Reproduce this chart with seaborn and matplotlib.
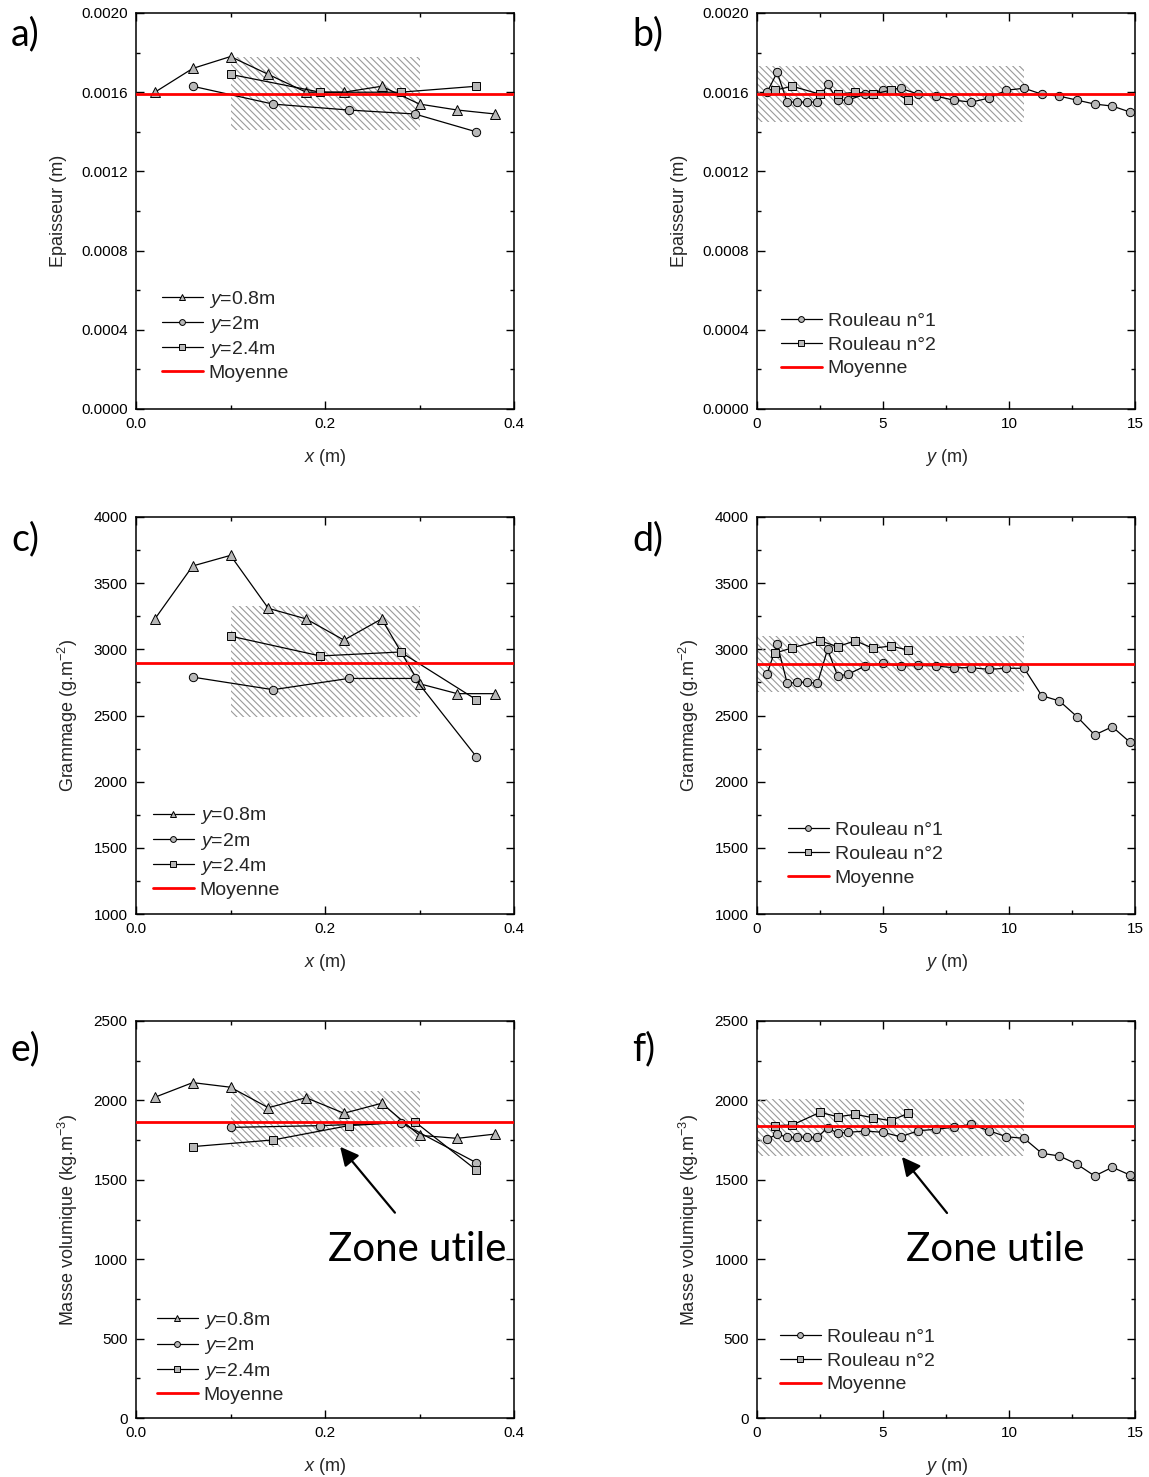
import matplotlib
matplotlib.use("Agg")
import matplotlib.pyplot as plt
from matplotlib.patches import Rectangle
from matplotlib.ticker import MultipleLocator, FormatStrFormatter
import seaborn as sns
import numpy as np

# ---------------- data ----------------
x_08 = [0.02, 0.06, 0.10, 0.14, 0.18, 0.22, 0.26, 0.30, 0.34, 0.38]
x_2 = [0.06, 0.145, 0.225, 0.295, 0.36]
x_24 = [0.10, 0.195, 0.28, 0.36]

ep_08 = [0.00160, 0.00172, 0.00178, 0.00169, 0.00160, 0.00160, 0.00163, 0.00154, 0.00151, 0.00149]
ep_2 = [0.00163, 0.00154, 0.00151, 0.00149, 0.00140]
ep_24 = [0.00169, 0.00160, 0.00160, 0.00163]

gr_08 = [3230, 3630, 3710, 3310, 3230, 3070, 3230, 2740, 2665, 2665]
gr_2 = [2790, 2695, 2780, 2780, 2190]
gr_24 = [3100, 2950, 2980, 2620]

# panel e: markers as drawn in the reference
xe_2 = [0.10, 0.195, 0.28, 0.36]
xe_24 = [0.06, 0.145, 0.225, 0.295, 0.36]
mv_08 = [2020, 2112, 2083, 1954, 2017, 1919, 1982, 1780, 1761, 1788]
mv_2 = [1830, 1841, 1860, 1608]
mv_24 = [1709, 1751, 1841, 1866, 1562]

y_r1 = [0.4, 0.8, 1.2, 1.6, 2.0, 2.4, 2.8, 3.2, 3.6, 4.3, 5.0, 5.7, 6.4, 7.1, 7.8,
        8.5, 9.2, 9.9, 10.6, 11.3, 12.0, 12.7, 13.4, 14.1, 14.8]
y_r2 = [0.7, 1.4, 2.5, 3.2, 3.9, 4.6, 5.3, 6.0]

ep_r1 = [0.00160, 0.00170, 0.00155, 0.00155, 0.00155, 0.00155, 0.00164, 0.00156, 0.00156,
         0.00159, 0.00161, 0.00162, 0.00159, 0.00158, 0.00156, 0.00155, 0.00157, 0.00161,
         0.00162, 0.00159, 0.00158, 0.00156, 0.00154, 0.00153, 0.00150]
ep_r2 = [0.00161, 0.00163, 0.00159, 0.00159, 0.00160, 0.00159, 0.00161, 0.00156]

gr_r1 = [2814, 3040, 2743, 2751, 2751, 2743, 3000, 2799, 2811, 2874, 2894, 2874, 2879,
         2874, 2861, 2861, 2849, 2857, 2857, 2650, 2610, 2491, 2353, 2415, 2298]
gr_r2 = [2970, 3012, 3065, 3020, 3065, 3008, 3025, 2995]

mv_r1 = [1755, 1788, 1768, 1768, 1768, 1768, 1828, 1793, 1799, 1807, 1799, 1771, 1809,
         1818, 1831, 1849, 1809, 1771, 1761, 1667, 1650, 1598, 1524, 1579, 1530]
mv_r2 = [1841, 1845, 1925, 1897, 1912, 1891, 1872, 1919]

means = {"a": 0.00159, "b": 0.00159, "c": 2900, "d": 2887, "e": 1862, "f": 1841}
zone_x_left = [0.10, 0.30]
zone_x_right = [0.0, 10.6]
zones_y = {"a": [0.00141, 0.00178], "b": [0.00145, 0.00173],
           "c": [2490, 3330], "d": [2680, 3103],
           "e": [1704, 2059], "f": [1652, 2007]}

lab_08, lab_2, lab_24 = "$y$=0.8m", "$y$=2m", "$y$=2.4m"
lab_r1, lab_r2, lab_m = "Rouleau n°1", "Rouleau n°2", "Moyenne"

# ---------------- style ----------------
sns.set_style("ticks")
plt.rcParams["font.family"] = ["Liberation Sans", "DejaVu Sans"]
plt.rcParams["mathtext.fontset"] = "custom"
plt.rcParams["mathtext.rm"] = "Liberation Sans"
plt.rcParams["mathtext.it"] = "Liberation Sans:italic"
plt.rcParams["hatch.linewidth"] = 0.8
plt.rcParams["hatch.color"] = "#9a9a9a"

fig = plt.figure(figsize=(11.49, 14.77), dpi=100)
W, H = 1149, 1477

def make_ax(left, top, bottom):
    return fig.add_axes([left / W, 1 - bottom / H, 378 / W, (bottom - top) / H])

axes = {
    "a": make_ax(136, 13, 409), "b": make_ax(757, 13, 409),
    "c": make_ax(136, 517, 914), "d": make_ax(757, 517, 914),
    "e": make_ax(136, 1021, 1418), "f": make_ax(757, 1021, 1418),
}

MFC = "#b8b8b8"

def series(ax, x, y, marker, label, ms):
    sns.lineplot(x=x, y=y, ax=ax, color="black", lw=0.9, marker=marker, markersize=ms,
                 markerfacecolor=MFC, markeredgecolor="black", markeredgewidth=0.7,
                 label=label, sort=False, zorder=3)

def zone(ax, xs, ys):
    ax.add_patch(Rectangle((xs[0], ys[0]), xs[1] - xs[0], ys[1] - ys[0],
                           facecolor="none", edgecolor="#9a9a9a", hatch="\\\\\\\\\\",
                           lw=0, zorder=1))

# left column
for key, (d08, d2, d24, xs2, xs24) in {
        "a": (ep_08, ep_2, ep_24, x_2, x_24),
        "c": (gr_08, gr_2, gr_24, x_2, x_24),
        "e": (mv_08, mv_2, mv_24, xe_2, xe_24)}.items():
    ax = axes[key]
    zone(ax, zone_x_left, zones_y[key])
    series(ax, x_08, d08, "^", lab_08, 7)
    series(ax, xs2, d2, "o", lab_2, 6)
    series(ax, xs24, d24, "s", lab_24, 5.5)
    ax.axhline(means[key], color="#ff0000", lw=2, label=lab_m, zorder=4)
    ax.set_xlim(0, 0.4)
    ax.xaxis.set_major_locator(MultipleLocator(0.2))
    ax.xaxis.set_minor_locator(MultipleLocator(0.1))
    ax.xaxis.set_major_formatter(FormatStrFormatter("%.1f"))
    ax.set_xlabel("$x$ (m)", fontsize=13, labelpad=11)

# right column
for key, (d1, d2) in {"b": (ep_r1, ep_r2), "d": (gr_r1, gr_r2), "f": (mv_r1, mv_r2)}.items():
    ax = axes[key]
    zone(ax, zone_x_right, zones_y[key])
    series(ax, y_r1, d1, "o", lab_r1, 6)
    series(ax, y_r2, d2, "s", lab_r2, 5.5)
    ax.axhline(means[key], color="#ff0000", lw=2, label=lab_m, zorder=4)
    ax.set_xlim(0, 15)
    ax.xaxis.set_major_locator(MultipleLocator(5))
    ax.xaxis.set_minor_locator(MultipleLocator(2.5))
    ax.xaxis.set_major_formatter(FormatStrFormatter("%d"))
    ax.set_xlabel("$y$ (m)", fontsize=13, labelpad=11)

for key in "ab":
    ax = axes[key]
    ax.set_ylim(0, 0.002)
    ax.yaxis.set_major_locator(MultipleLocator(0.0004))
    ax.yaxis.set_minor_locator(MultipleLocator(0.0002))
    ax.yaxis.set_major_formatter(FormatStrFormatter("%.4f"))
    ax.set_ylabel("Epaisseur (m)", fontsize=13, labelpad=10)
for key in "cd":
    ax = axes[key]
    ax.set_ylim(1000, 4000)
    ax.yaxis.set_major_locator(MultipleLocator(500))
    ax.yaxis.set_minor_locator(MultipleLocator(250))
    ax.set_ylabel("Grammage (g.m$^{-2}$)", fontsize=13, labelpad=10)
for key in "ef":
    ax = axes[key]
    ax.set_ylim(0, 2500)
    ax.yaxis.set_major_locator(MultipleLocator(500))
    ax.yaxis.set_minor_locator(MultipleLocator(250))
    ax.set_ylabel("Masse volumique (kg.m$^{-3}$)", fontsize=13, labelpad=10)

legend_pos = {"a": (0.069, 0.186), "b": (0.0635, 0.162), "c": (0.045, 0.156),
              "d": (0.082, 0.151), "e": (0.0556, 0.154), "f": (0.061, 0.144)}

for key, ax in axes.items():
    for s in ax.spines.values():
        s.set_linewidth(1.1)
        s.set_color("black")
    ax.tick_params(which="both", direction="in", top=True, right=True,
                   labelsize=11, colors="black", width=1.0)
    ax.tick_params(which="major", length=6, pad=6)
    ax.tick_params(which="minor", length=3)
    spacing = 0.22 if key in "ace" else 0.32
    ax.legend(loc="center left", bbox_to_anchor=legend_pos[key], frameon=False,
              fontsize=14, handlelength=2.1, handletextpad=0.3, labelspacing=spacing,
              borderpad=0, borderaxespad=0, markerscale=0.7)

# panel letters
for key, (px, py) in {"a": (11, 34), "b": (632, 34), "c": (11, 539),
                      "d": (632, 539), "e": (11, 1049), "f": (632, 1049)}.items():
    fig.text(px / W, 1 - py / H, key + ")", fontsize=27, family="Lato",
             color="black", ha="left", va="center")

# Zone utile annotations
axes["e"].annotate("", xy=(0.216, 1708), xytext=(0.274, 1293),
                   arrowprops=dict(arrowstyle="-|>", color="black", lw=1.6,
                                   mutation_scale=28, shrinkA=0, shrinkB=0))
axes["e"].text(0.298, 1058, "Zone utile", fontsize=29, family="Lato",
               color="black", ha="center", va="center")
axes["f"].annotate("", xy=(5.75, 1644), xytext=(7.54, 1291),
                   arrowprops=dict(arrowstyle="-|>", color="black", lw=1.6,
                                   mutation_scale=28, shrinkA=0, shrinkB=0))
axes["f"].text(9.44, 1058, "Zone utile", fontsize=29, family="Lato",
               color="black", ha="center", va="center")

fig.savefig("out.png", dpi=100)
